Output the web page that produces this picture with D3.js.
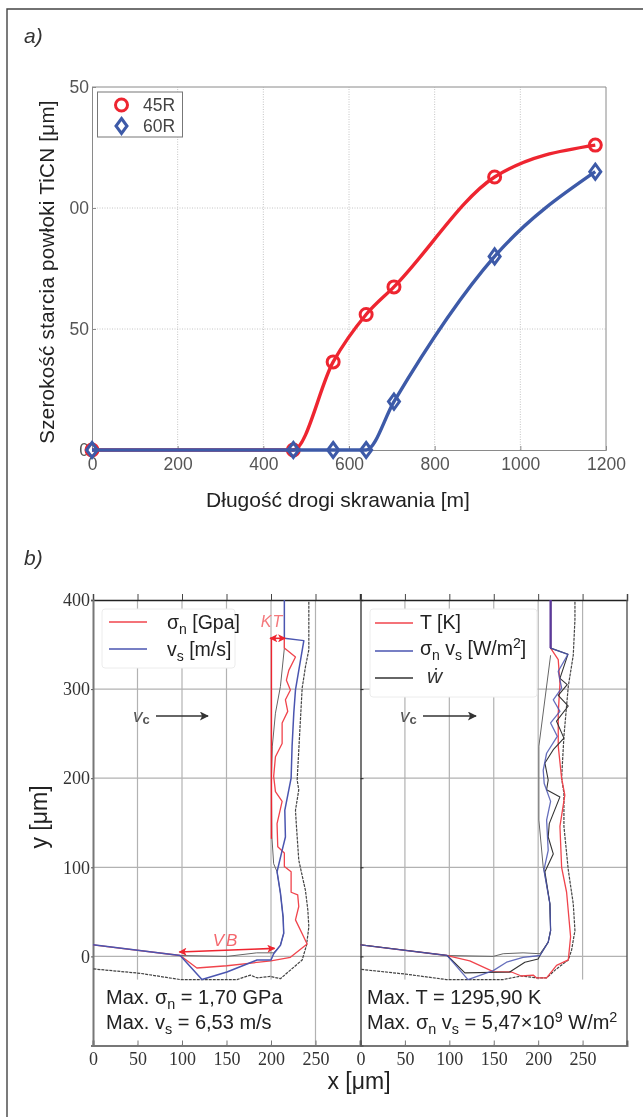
<!DOCTYPE html>
<html>
<head>
<meta charset="utf-8">
<script src="https://cdn.jsdelivr.net/npm/d3@7"></script>
<style>
  html, body { margin: 0; padding: 0; background: #fff; }
  svg { display: block; filter: blur(0.4px); }
  text { font-family: "Liberation Sans", sans-serif; }
  .serif .tick text { font-family: "Liberation Serif", serif; font-size: 18px; fill: #333; }
</style>
</head>
<body>
<svg id="chart" width="643" height="1117"></svg>
<script>
// panel a: wear width vs cutting distance
const wearX = [0, 470, 563, 640, 705, 940, 1175];
const wear45R = [0, 0, 36.4, 56, 67.4, 112.8, 126];
const wear60R = [0, 0, 0, 0, 20, 80, 115];
const wearXTicks = [0, 200, 400, 600, 800, 1000, 1200];
const wearYTicks = [0, 50, 100, 150];
// the scan crops the leading digit of 100 and 150
const wearYLabels = ['0', '50', '00', '50'];

// panel b, left plot
const sigmaX = [215, 215, 227.5, 220, 217.3, 221.8, 216.2, 218.8, 212.5, 212.5, 205, 203, 205, 212.5, 206.8, 207.6, 215, 215, 222.6, 222.6, 230, 231.2, 227.5, 240.6, 221.8, 200, 150.5, 116.7, 98, 0];
const sigmaY = [357, 346, 336, 321, 310, 299, 288, 275, 262, 239, 224, 202, 185, 174, 149, 123, 116, 101, 95, 72, 69, 56, 41, 14, -1, -5, -10.5, -13, 1, 13];
const velX = [215, 215, 236.9, 227.5, 225.6, 223.7, 222.6, 220, 215.5, 216.2, 212.5, 206.8, 210.6, 213.6, 214.3, 210.6, 203, 200, 184.3, 150.5, 122.4, 98, 0];
const velY = [400, 357, 354.4, 299, 273, 236, 200, 187, 164, 134, 119, 95, 71, 44, 26, 12.5, 3, -4, -4, -17.5, -26, 1, 13];
const innerLeftX = [98, 150.5, 184, 203, 210.6, 214.3, 213.6, 210.6, 206.8, 203, 201, 200.5, 201.5, 205, 210.6, 215, 215];
const innerLeftY = [1, 0, 4, 4, 12.5, 26, 44, 71, 95, 104, 134, 200, 236, 273, 303, 346, 357];
const outerLeftX = [242.5, 242.5, 238.7, 235, 229.4, 231.2, 227.5, 228.6, 231.2, 238.7, 241.4, 242.5, 239.9, 235, 210.6, 199.3, 184.3, 176.8, 161.8, 98, 52.9, 0];
const outerLeftY = [398, 344, 325, 301, 198, 187, 164, 146, 108, 74, 52, 33, 12.5, -4, -25, -22.5, -24, -21, -26, -26, -19, -14];

// panel b, right plot
const tempX = [214, 214, 222.6, 224.5, 222.6, 222.6, 226.4, 230, 224.5, 226.4, 232, 236.5, 233.9, 220.7, 209.5, 198, 194.4, 181, 170, 149.4, 123, 97.6, 0];
const tempY = [400, 346, 333, 306, 273, 236, 200, 181, 146, 100, 72, 22, -4, -10, -24, -24, -21, -22, -17.5, -17, -5, 1, 13];
const powerX = [214, 214, 233.5, 222.6, 226.4, 217, 224.5, 214, 221.5, 209.5, 205.7, 206.8, 214, 209.5, 211.3, 206.5, 213.2, 214, 211.3, 202, 183, 164.4, 149.4, 121, 97.6, 0];
const powerY = [400, 346, 339, 320, 301, 288, 275, 262, 247, 228, 209, 194, 174, 153, 119, 97, 59, 29, 16, 1, -1, -6.5, -16, -26, 1, 13];
const heatX = [214, 214, 233.5, 224.5, 232.7, 222.6, 233.9, 220.7, 229, 217, 207.6, 211.3, 209.5, 224.5, 212.5, 211.3, 217, 207.6, 213.2, 214, 211.3, 202, 200, 185, 168, 117.5, 97.6, 0];
const heatY = [400, 346, 339, 312, 305, 293, 281, 264, 245, 232, 217, 198, 187, 179, 149, 134, 115, 95, 59, 29, 16, 1, -3, -6.5, -17.5, -18.5, 1, 13];
const innerRightX = [97.6, 149.4, 160.6, 183, 202, 211.3, 214, 213.2, 206.5, 205.7, 200.8, 200.8, 214];
const innerRightY = [1, 0, 3, 4, 3, 16, 29, 59, 97, 100, 153, 236, 338];
const outerRightX = [241.4, 241.4, 239.5, 233.9, 229, 226.4, 229, 229, 233.9, 239.5, 241.4, 237.6, 233.9, 220.7, 209.5, 198, 181, 160.6, 96.8, 51.8, 0];
const outerRightY = [398, 378, 338, 303, 247, 200, 183, 146, 97, 59, 29, 7, -4, -14, -24, -24, -22, -26, -26, -20, -14.5];

const toolXTicks = [0, 50, 100, 150, 200, 250];
const toolYTicks = [-100, 0, 100, 200, 300, 400];

const RED = '#ee2530';
const BLUE = '#3d5aa8';
const svg = d3.select('#chart');

const defs = svg.append('defs');
[['arrowRed', RED, 11, 8], ['arrowDark', '#333', 15, 9]].forEach(([id, col, w, h]) => {
  defs.append('marker').attr('id', id).attr('viewBox', '0 0 10 10')
    .attr('refX', 9).attr('refY', 5).attr('markerWidth', w).attr('markerHeight', h)
    .attr('markerUnits', 'userSpaceOnUse').attr('orient', 'auto-start-reverse')
    .append('path').attr('d', 'M0,0 L10,5 L0,10 L2.5,5 z').attr('fill', col);
});

// outer frame of the figure
svg.append('path').attr('d', 'M643,9 H7 V1117').attr('fill', 'none').attr('stroke', '#444').attr('stroke-width', 1.4);

// rich text helper: parts are [string, 'sub' | 'sup' | undefined]
function richText(x, y, parts, size, fill = '#222') {
  const t = svg.append('text').attr('x', x).attr('y', y).attr('font-size', size).attr('fill', fill);
  let shift = 0;
  parts.forEach(([s, kind]) => {
    const target = kind === 'sub' ? 5 : kind === 'sup' ? -7 : 0;
    t.append('tspan').attr('dy', target - shift)
      .attr('font-size', kind ? size * 0.72 : size).text(s);
    shift = target;
  });
  return t;
}

/* ---------- panel a ---------- */
svg.append('text').attr('x', 24).attr('y', 43).attr('font-size', 21).attr('font-style', 'italic')
  .attr('font-family', '"Open Sans"').attr('fill', '#333').text('a)');

const ax = d3.scaleLinear().domain([0, 1200]).range([92, 606]);
const ay = d3.scaleLinear().domain([0, 150]).range([450, 87]);

const aGrid = svg.append('g').attr('stroke', '#c4c4c4').attr('stroke-dasharray', '1 1.5').attr('stroke-width', 1);
wearXTicks.slice(1, -1).forEach((d) => {
  aGrid.append('line').attr('x1', ax(d)).attr('x2', ax(d)).attr('y1', ay(0)).attr('y2', ay(150));
});
wearYTicks.slice(1, -1).forEach((d) => {
  aGrid.append('line').attr('x1', ax(0)).attr('x2', ax(1200)).attr('y1', ay(d)).attr('y2', ay(d));
});

const aBottom = svg.append('g').attr('transform', `translate(0,${ay(0)})`)
  .call(d3.axisBottom(ax).tickValues(wearXTicks).tickSize(-4).tickPadding(8).tickFormat(d3.format('d')));
const aLeft = svg.append('g').attr('transform', `translate(${ax(0)},0)`)
  .call(d3.axisLeft(ay).tickValues(wearYTicks).tickSize(-4).tickPadding(3)
    .tickFormat((d, i) => wearYLabels[i]));
[aBottom, aLeft].forEach((g) => {
  g.selectAll('.domain, line').attr('stroke', '#8a8a8a');
  g.selectAll('text').attr('font-size', 17.5).attr('fill', '#555');
});
svg.append('path')
  .attr('d', `M${ax(0)},${ay(150)} H${ax(1200)} V${ay(0)}`)
  .attr('fill', 'none').attr('stroke', '#8a8a8a');

const wearLine = d3.line().x((d) => ax(d[0])).y((d) => ay(d[1])).curve(d3.curveMonotoneX);
const series45 = d3.zip(wearX, wear45R);
const series60 = d3.zip(wearX, wear60R);

svg.append('path').attr('d', wearLine(series45)).attr('fill', 'none').attr('stroke', RED).attr('stroke-width', 3.4);
svg.append('g').selectAll('circle').data(series45).join('circle')
  .attr('cx', (d) => ax(d[0])).attr('cy', (d) => ay(d[1])).attr('r', 6)
  .attr('fill', 'none').attr('stroke', RED).attr('stroke-width', 3);

// wider rhombus than d3.symbolDiamond
const wideDiamond = { draw(ctx) {
  ctx.moveTo(0, -7.5); ctx.lineTo(5.5, 0); ctx.lineTo(0, 7.5); ctx.lineTo(-5.5, 0); ctx.closePath();
} };
const diamond = d3.symbol().type(wideDiamond);
svg.append('path').attr('d', wearLine(series60)).attr('fill', 'none').attr('stroke', BLUE).attr('stroke-width', 3.4);
svg.append('g').selectAll('path').data(series60).join('path')
  .attr('d', diamond)
  .attr('transform', (d) => `translate(${ax(d[0])},${ay(d[1])})`)
  .attr('fill', 'none').attr('stroke', BLUE).attr('stroke-width', 3);

// legend
svg.append('rect').attr('x', 97.5).attr('y', 92).attr('width', 85).attr('height', 45)
  .attr('fill', '#fff').attr('stroke', '#777');
svg.append('circle').attr('cx', 121.5).attr('cy', 105).attr('r', 6).attr('fill', 'none').attr('stroke', RED).attr('stroke-width', 3);
svg.append('path').attr('d', diamond).attr('transform', 'translate(121.5,126)').attr('fill', 'none').attr('stroke', BLUE).attr('stroke-width', 3);
svg.append('text').attr('x', 143).attr('y', 111).attr('font-size', 17.5).attr('fill', '#444').text('45R');
svg.append('text').attr('x', 143).attr('y', 132).attr('font-size', 17.5).attr('fill', '#444').text('60R');

svg.append('text').attr('transform', 'translate(54,272) rotate(-90)').attr('text-anchor', 'middle')
  .attr('font-size', 20.5).attr('fill', '#222').attr('letter-spacing', 0.3).text('Szerokość starcia powłoki TiCN [μm]');
svg.append('text').attr('x', 338).attr('y', 507).attr('text-anchor', 'middle')
  .attr('font-size', 21).attr('fill', '#222').text('Długość drogi skrawania [m]');

/* ---------- panel b ---------- */
svg.append('text').attr('x', 24).attr('y', 565).attr('font-size', 21).attr('font-style', 'italic')
  .attr('font-family', '"Open Sans"').attr('fill', '#333').text('b)');

const by = d3.scaleLinear().domain([-100, 400]).range([1045.5, 600]);
const bxLeft = d3.scaleLinear().domain([0, 300]).range([93, 360]);
const bxRight = d3.scaleLinear().domain([0, 300]).range([360.5, 627]);

function drawPlot(bx, isLeft) {
  const grid = svg.append('g').attr('stroke', '#b2b2b2').attr('stroke-width', 1.2);
  toolXTicks.slice(1).forEach((d) => {
    grid.append('line').attr('x1', bx(d)).attr('x2', bx(d)).attr('y1', by(-100)).attr('y2', by(400));
  });
  toolYTicks.slice(1, -1).forEach((d) => {
    grid.append('line').attr('x1', bx(0)).attr('x2', bx(300)).attr('y1', by(d)).attr('y2', by(d));
  });
  // white block behind the stats text hides the grid below the tool edge
  svg.append('rect').attr('x', bx(1)).attr('y', by(-26)).attr('width', bx(isLeft ? 228 : 299) - bx(1))
    .attr('height', by(-99) - by(-26)).attr('fill', '#fff');

  const bottom = svg.append('g').attr('class', 'serif').attr('transform', `translate(0,${by(-100)})`)
    .call(d3.axisBottom(bx).tickValues(toolXTicks).tickSize(-5).tickPadding(7).tickFormat(d3.format('d')));
  bottom.selectAll('line').attr('stroke', '#777');
  bottom.select('.domain').attr('stroke', '#777').attr('stroke-width', 2);

  const top = svg.append('g').attr('transform', `translate(0,${by(400)})`)
    .call(d3.axisTop(bx).tickValues(isLeft ? toolXTicks : toolXTicks.concat(300)).tickSize(6).tickFormat(''));
  top.selectAll('line').attr('stroke', '#444');
  top.select('.domain').attr('stroke', '#222').attr('stroke-width', 1.4);
}

drawPlot(bxLeft, true);
drawPlot(bxRight, false);

// y axes
const leftAxis = svg.append('g').attr('class', 'serif').attr('transform', `translate(${bxLeft(0)},0)`)
  .call(d3.axisLeft(by).tickValues(toolYTicks.slice(1)).tickSize(2).tickPadding(1).tickFormat(d3.format('d')));
leftAxis.select('.domain').attr('stroke', '#777').attr('stroke-width', 2);
leftAxis.selectAll('line').attr('stroke', '#555');

const midAxis = svg.append('g').attr('transform', `translate(${bxRight(0)},0)`)
  .call(d3.axisRight(by).tickValues(toolYTicks.slice(1)).tickSize(3).tickFormat(''));
midAxis.select('.domain').attr('stroke', '#555').attr('stroke-width', 1.6);
midAxis.selectAll('line').attr('stroke', '#222');

// right edge of the right plot
svg.append('line').attr('x1', bxRight(300)).attr('x2', bxRight(300)).attr('y1', by(400)).attr('y2', by(-100))
  .attr('stroke', '#555').attr('stroke-width', 1.4);

function legendBox(x, y, w, h) {
  svg.append('rect').attr('x', x).attr('y', y).attr('width', w).attr('height', h).attr('rx', 3)
    .attr('fill', '#fff').attr('stroke', '#ececec');
}
legendBox(102, 609, 133, 59);
legendBox(370, 609, 167, 88);

function curve(bx, xs, ys, col, width, dash) {
  const line = d3.line().x((d) => bx(d[0])).y((d) => by(d[1]));
  const p = svg.append('path').attr('d', line(d3.zip(xs, ys))).attr('fill', 'none')
    .attr('stroke', col).attr('stroke-width', width).attr('stroke-linejoin', 'round');
  if (dash) p.attr('stroke-dasharray', dash);
  return p;
}

const THIN_RED = '#f0444c';
const THIN_BLUE = '#4a55b0';
const THIN_BLACK = '#444';

// left plot curves
curve(bxLeft, outerLeftX, outerLeftY, THIN_BLACK, 1.2, '3 1');
curve(bxLeft, innerLeftX, innerLeftY, '#666', 1);
curve(bxLeft, sigmaX, sigmaY, THIN_RED, 1.3);
curve(bxLeft, velX, velY, THIN_BLUE, 1.5);

// right plot curves
curve(bxRight, outerRightX, outerRightY, THIN_BLACK, 1.2, '3 1');
curve(bxRight, innerRightX, innerRightY, '#666', 1);
curve(bxRight, tempX, tempY, THIN_RED, 1.3);
curve(bxRight, heatX, heatY, '#333', 1.1);
curve(bxRight, powerX, powerY, THIN_BLUE, 1.3).attr('stroke-opacity', 0.85);
// red, blue and black coincide here, which reads as one thick purple line
curve(bxRight, powerX.slice(0, 2), powerY.slice(0, 2), '#5a3a9c', 2.2);

// VB and KT annotations on the left plot
svg.append('line').attr('x1', bxLeft(200.5)).attr('x2', bxLeft(200.5)).attr('y1', by(357)).attr('y2', by(132))
  .attr('stroke', RED).attr('stroke-width', 1.4);
svg.append('line').attr('x1', bxLeft(97)).attr('x2', bxLeft(204)).attr('y1', by(5)).attr('y2', by(9))
  .attr('stroke', RED).attr('stroke-width', 1.6)
  .attr('marker-start', 'url(#arrowRed)').attr('marker-end', 'url(#arrowRed)');
svg.append('line').attr('x1', bxLeft(199)).attr('x2', bxLeft(216)).attr('y1', by(357)).attr('y2', by(357))
  .attr('stroke', RED).attr('stroke-width', 1.6)
  .attr('marker-start', 'url(#arrowRed)').attr('marker-end', 'url(#arrowRed)');
svg.append('text').attr('x', 226).attr('y', 946).attr('text-anchor', 'middle')
  .attr('font-family', '"Liberation Serif"').attr('font-style', 'italic').attr('font-size', 17)
  .attr('letter-spacing', 2).attr('fill', '#f4686e').text('VB');
svg.append('text').attr('x', 272).attr('y', 627).attr('text-anchor', 'middle')
  .attr('font-family', '"Liberation Serif"').attr('font-style', 'italic').attr('font-size', 16)
  .attr('letter-spacing', 1).attr('fill', '#f4787c').text('KT');

// cutting speed arrows
[[133, 156, 208], [400, 423, 476]].forEach(([tx, a, b]) => {
  const t = svg.append('text').attr('x', tx).attr('y', 722).attr('font-family', '"DejaVu Serif"')
    .attr('font-size', 19).attr('fill', '#555');
  t.append('tspan').attr('font-style', 'italic').text('v');
  t.append('tspan').attr('font-size', 13).attr('dy', 2).attr('font-weight', 'bold').text('c');
  svg.append('line').attr('x1', a).attr('x2', b).attr('y1', 716).attr('y2', 716)
    .attr('stroke', '#333').attr('stroke-width', 1.6).attr('marker-end', 'url(#arrowDark)');
});

// legend entries
function legendLine(x1, x2, y, col) {
  svg.append('line').attr('x1', x1).attr('x2', x2).attr('y1', y).attr('y2', y).attr('stroke', col).attr('stroke-width', 1.4);
}
legendLine(109, 147, 622, THIN_RED);
legendLine(109, 147, 649, THIN_BLUE);
richText(167, 629, [['σ'], ['n', 'sub'], [' [Gpa]']], 19.5);
richText(167, 656, [['v'], ['s', 'sub'], [' [m/s]']], 19.5);
legendLine(375, 413, 623, THIN_RED);
legendLine(375, 413, 651, THIN_BLUE);
legendLine(375, 413, 678, '#333');
richText(420, 629, [['T [K]']], 19.5);
richText(420, 655, [['σ'], ['n', 'sub'], [' v'], ['s', 'sub'], [' [W/m'], ['2', 'sup'], [']']], 19.5);
svg.append('text').attr('x', 427).attr('y', 683).attr('font-family', '"DejaVu Serif"').attr('font-style', 'italic')
  .attr('font-size', 21).attr('fill', '#333').text('ẇ');

// stats text
richText(106, 1004, [['Max. σ'], ['n', 'sub'], [' = 1,70 GPa']], 20);
richText(106, 1029, [['Max. v'], ['s', 'sub'], [' = 6,53 m/s']], 20);
richText(367, 1004, [['Max. T = 1295,90 K']], 20);
richText(367, 1029, [['Max. σ'], ['n', 'sub'], [' v'], ['s', 'sub'], [' = 5,47×10'], ['9', 'sup'], [' W/m'], ['2', 'sup']], 20);

// axis titles
svg.append('text').attr('x', 359).attr('y', 1089).attr('text-anchor', 'middle').attr('font-size', 23)
  .attr('fill', '#222').text('x [μm]');
svg.append('text').attr('transform', 'translate(47,817) rotate(-90)').attr('text-anchor', 'middle')
  .attr('font-size', 23).attr('fill', '#222').text('y [μm]');
</script>
</body>
</html>
